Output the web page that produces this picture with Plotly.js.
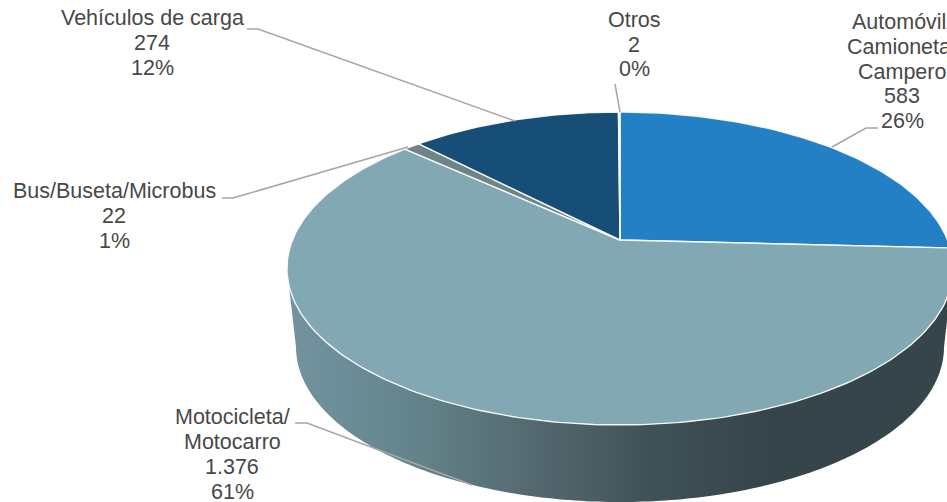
<!DOCTYPE html>
<html>
<head>
<meta charset="utf-8">
<script src="https://cdn.plot.ly/plotly-3.0.1.min.js"></script>
<style>html,body{margin:0;padding:0;background:#fff;overflow:hidden}#c{width:947px;height:502px}</style>
</head>
<body>
<div id="c"></div>
<script>
// Data
const categories = ["Automóvil/ Camioneta/ Campero", "Motocicleta/ Motocarro", "Bus/Buseta/Microbus", "Vehículos de carga", "Otros"];
const values = [583, 1376, 22, 274, 2];
const sliceColors = ["#2380c5", "#82a8b3", "#6f8585", "#164e77", "#9fb4bb"];
const labelLines = [
  ["Automóvil/", "Camioneta/", "Campero"],
  ["Motocicleta/", "Motocarro"],
  ["Bus/Buseta/Microbus"],
  ["Vehículos de carga"],
  ["Otros"]
];

// Label placement: centre x, y of first line, line step
const labelX = [902, 232, 114, 152, 634];
const labelY = [22, 417, 191, 18, 20];
const labelStep = [24.8, 25, 25, 25, 24.5];

// Leader lines in chart coordinates
const leaders = [
  "M878,128 L866,128 L832,147",
  "M295,423 L307,423 L472,485",
  "M222,198 L233,198 L408,147",
  "M247,29 L258,29 L515,121",
  "M615,84 L620,112"
];

// Perspective disc geometry
const APEX = {x: 620, y: 240}, A = 327.5, B = 151.3, K = 0.182;
const BOTTOM = {x: 620, y: 347, rx: 324, ry: 155};

function rim(deg) {
  const t = deg * Math.PI / 180, u = Math.sin(t), v = Math.cos(t), w = 1 + K * v;
  return [APEX.x + A * u / w, APEX.y - B * v / w];
}
const total = values.reduce((a, b) => a + b, 0);
const traces = [];

// Side wall: front part of the top rim between its side extremes + bottom rim
const wx = [], wy = [];
for (let d = 100.5; d <= 259.5; d += 1) { const p = rim(d); wx.push(p[0]); wy.push(p[1]); }
for (let d = 270; d >= 90; d--) {
  const t = d * Math.PI / 180;
  wx.push(BOTTOM.x + BOTTOM.rx * Math.sin(t)); wy.push(BOTTOM.y - BOTTOM.ry * Math.cos(t));
}
traces.push({
  type: "scatter", x: wx, y: wy, mode: "none", fill: "toself", hoverinfo: "skip", showlegend: false,
  fillgradient: {type: "horizontal", colorscale: [[0, "#7393a0"], [0.18, "#64858d"], [0.35, "#566c72"], [0.55, "#3f5157"], [0.72, "#36454a"], [1, "#36454a"]]}
});

// Top slices
let acc = 0;
values.forEach((val, i) => {
  const a0 = acc / total * 360, a1 = (acc + val) / total * 360;
  acc += val;
  const xs = [APEX.x], ys = [APEX.y];
  const n = Math.max(2, Math.ceil(a1 - a0));
  for (let k = 0; k <= n; k++) { const p = rim(a0 + (a1 - a0) * k / n); xs.push(p[0]); ys.push(p[1]); }
  xs.push(APEX.x); ys.push(APEX.y);
  traces.push({
    type: "scatter", name: categories[i], x: xs, y: ys, mode: "lines", fill: "toself",
    fillcolor: sliceColors[i], line: {color: "rgba(255,255,255,0.9)", width: 1.4},
    hoverinfo: "name", showlegend: false
  });
});

// Labels
const fmt = v => String(v).replace(/\B(?=(\d{3})+$)/g, ".");
const annotations = [];
values.forEach((val, i) => {
  const lines = labelLines[i].concat([fmt(val), Math.round(val / total * 100) + "%"]);
  lines.forEach((txt, j) => annotations.push({
    xref: "x", yref: "y", x: labelX[i], y: labelY[i] + j * labelStep[i], text: txt, showarrow: false,
    xanchor: "center", yanchor: "middle", borderpad: 0,
    font: {family: "Liberation Sans, Arial, sans-serif", size: 21.5, color: "#484848"}
  }));
});

const shapes = leaders.map(path => ({
  type: "path", xref: "x", yref: "y", path, layer: "above", line: {color: "#a6a6a6", width: 1.5}
}));

Plotly.newPlot("c", traces, {
  width: 947, height: 502, margin: {l: 0, r: 0, t: 0, b: 0},
  paper_bgcolor: "#fff", plot_bgcolor: "#fff", showlegend: false,
  xaxis: {range: [0, 947], visible: false, fixedrange: true},
  yaxis: {range: [502, 0], visible: false, fixedrange: true},
  annotations, shapes
}, {displayModeBar: false, staticPlot: true});
</script>
</body>
</html>
